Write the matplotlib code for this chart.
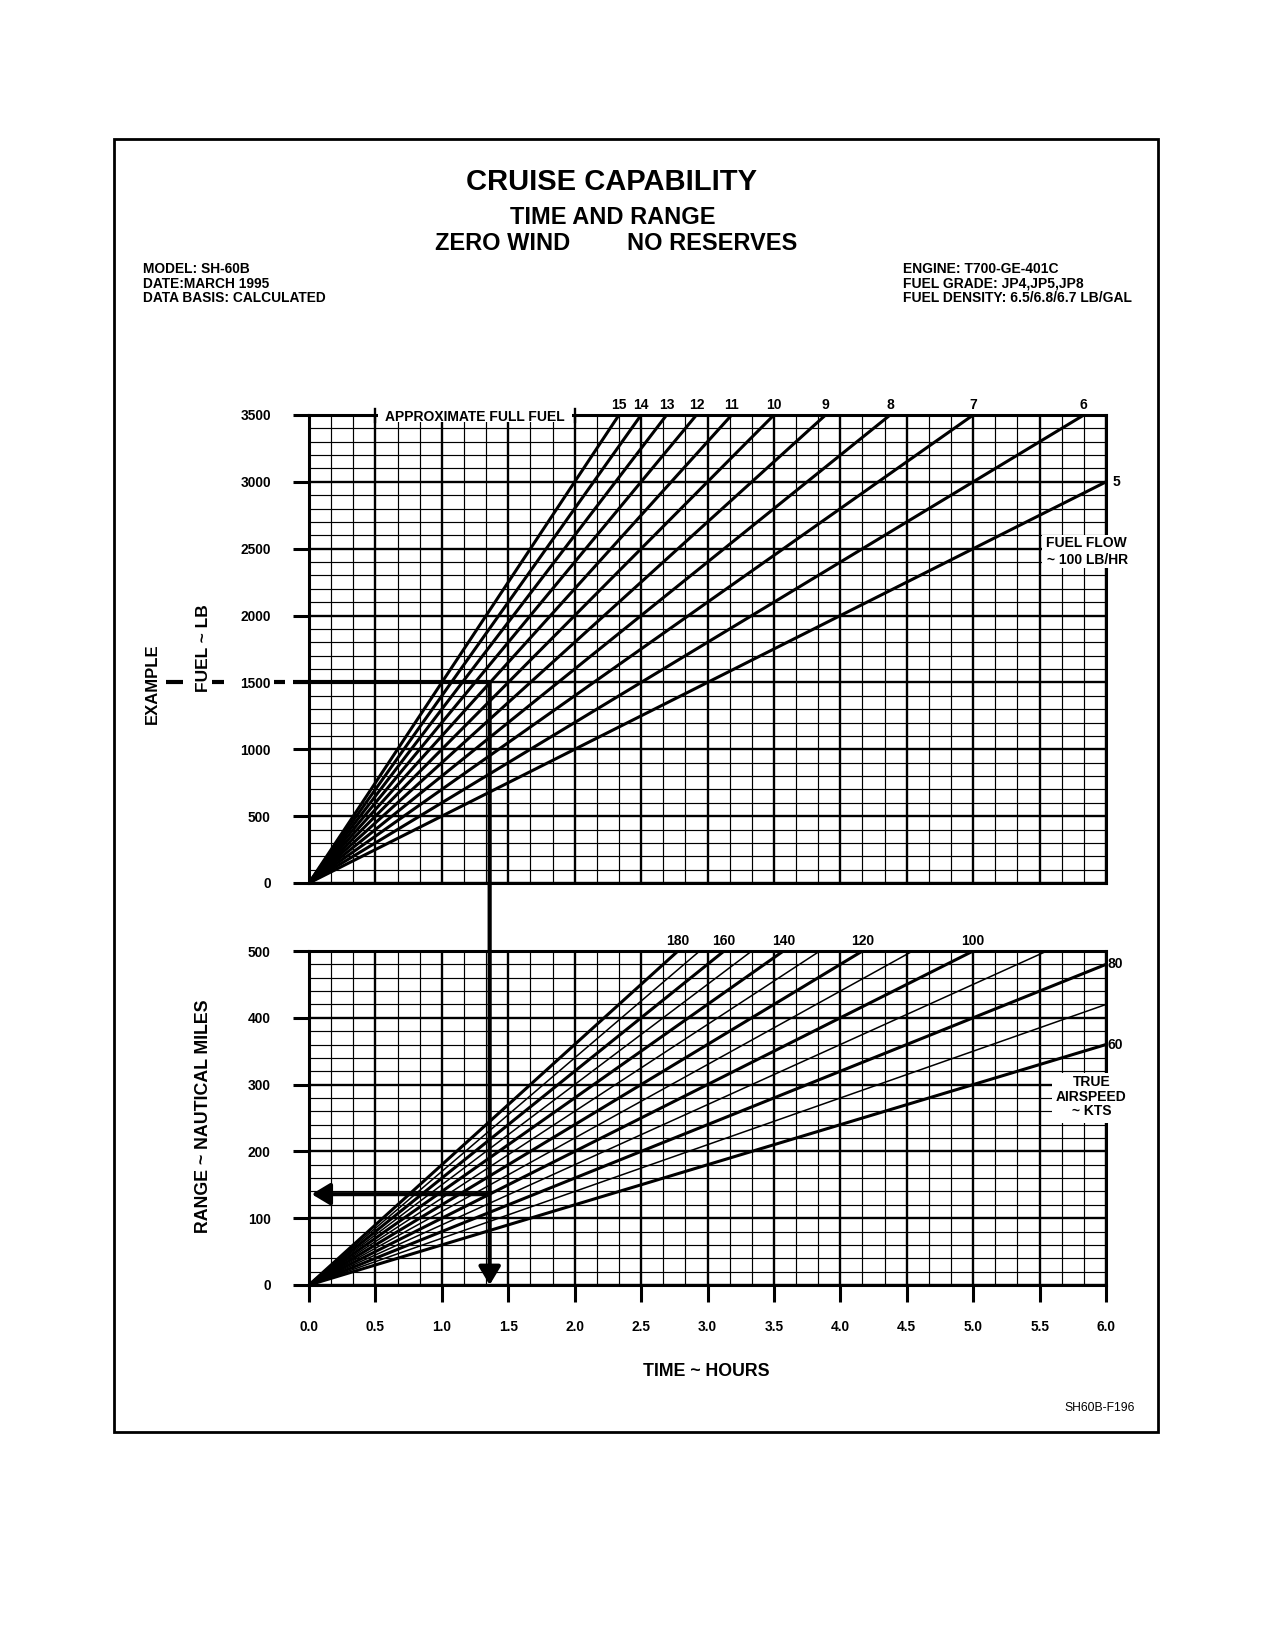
import numpy as np
import matplotlib.pyplot as plt
from matplotlib.patches import Rectangle, ConnectionPatch
from matplotlib.lines import Line2D

plt.rcParams['font.family'] = ['Liberation Sans', 'DejaVu Sans']
plt.rcParams['font.weight'] = 'bold'

# fuel flow lines, in 100 lb/hr
fuel_flows = [15, 14, 13, 12, 11, 10, 9, 8, 7, 6, 5]
# true airspeed lines, kts
airspeeds = [180, 170, 160, 150, 140, 130, 120, 110, 100, 90, 80, 70, 60]
labeled_speeds = [180, 160, 140, 120, 100, 80, 60]

time_ticks = [0.0, 0.5, 1.0, 1.5, 2.0, 2.5, 3.0, 3.5, 4.0, 4.5, 5.0, 5.5, 6.0]
fuel_ticks = [0, 500, 1000, 1500, 2000, 2500, 3000, 3500]
range_ticks = [0, 100, 200, 300, 400, 500]

full_fuel = 3500
max_range = 500
max_time = 6.0

# worked example
ex_fuel = 1500
ex_time = 1.36
ex_range = 136

W, H = 1275, 1650
fig = plt.figure(figsize=(W / 100, H / 100), dpi=100)


def fxy(px, py):
    return px / W, 1 - py / H


# page border
fig.add_artist(Rectangle(fxy(114, 1432), 1044 / W, 1293 / H, fill=False,
                         lw=2.0, ec='k', transform=fig.transFigure))

# titles / header
fig.text(*fxy(612, 182), 'CRUISE CAPABILITY', fontsize=21, ha='center', va='center')
fig.text(*fxy(613, 217), 'TIME AND RANGE', fontsize=17, ha='center', va='center')
fig.text(*fxy(435, 244), 'ZERO WIND', fontsize=17, ha='left', va='center')
fig.text(*fxy(797, 244), 'NO RESERVES', fontsize=17, ha='right', va='center')

left_hdr = ['MODEL: SH-60B', 'DATE:MARCH 1995', 'DATA BASIS: CALCULATED']
right_hdr = ['ENGINE: T700-GE-401C', 'FUEL GRADE: JP4,JP5,JP8',
             'FUEL DENSITY: 6.5/6.8/6.7 LB/GAL']
for i, (a, b) in enumerate(zip(left_hdr, right_hdr)):
    fig.text(*fxy(143, 269 + i * 14.5), a, fontsize=9.9, ha='left', va='center')
    fig.text(*fxy(903, 269 + i * 14.5), b, fontsize=10, ha='left', va='center')

ax1 = fig.add_axes([309 / W, 1 - 883 / H, 797 / W, 468 / H])
ax2 = fig.add_axes([309 / W, 1 - 1285 / H, 797 / W, 334 / H])

for ax, yt, ystep in [(ax1, fuel_ticks, 100), (ax2, range_ticks, 20)]:
    ax.set_xlim(0, max_time)
    ax.set_ylim(yt[0], yt[-1])
    ax.set_xticks(time_ticks)
    ax.set_xticks(np.arange(0, max_time + 1e-6, 1 / 6), minor=True)
    ax.set_yticks(yt)
    ax.set_yticks(np.arange(yt[0], yt[-1] + 1e-6, ystep), minor=True)
    ax.set_axisbelow(True)
    ax.grid(which='major', color='k', lw=1.7)
    ax.grid(which='minor', color='k', lw=0.85)
    ax.tick_params(axis='y', which='major', direction='out', length=11.5,
                   width=2.2, pad=16, labelsize=9.9)
    ax.tick_params(which='minor', length=0)
    for s in ax.spines.values():
        s.set_linewidth(2.2)

ax1.tick_params(axis='x', which='major', length=0, labelbottom=False)
ax2.tick_params(axis='x', which='major', direction='out', length=12,
                width=2.2, pad=13, labelsize=9.9)
ax2.set_xticklabels([f'{v:.1f}' for v in time_ticks])

# fuel flow lines
for f in fuel_flows:
    rate = f * 100
    tend = min(max_time, full_fuel / rate)
    ax1.plot([0, tend], [0, rate * tend], color='k', lw=2.2, solid_capstyle='butt', zorder=2)
    if rate * max_time > full_fuel:
        ax1.annotate(str(f), xy=(tend, full_fuel), xytext=(0, 7), textcoords='offset points',
                     ha='center', va='center', fontsize=10)
    else:
        ax1.annotate(str(f), xy=(max_time, rate * max_time), xytext=(5, 0),
                     textcoords='offset points', ha='left', va='center', fontsize=10)

# airspeed lines
for s in airspeeds:
    tend = min(max_time, max_range / s)
    thick = s in labeled_speeds
    ax2.plot([0, tend], [0, s * tend], color='k', lw=2.2 if thick else 1.1,
             solid_capstyle='butt', zorder=2)
    if not thick:
        continue
    if s * max_time > max_range:
        ax2.annotate(str(s), xy=(tend, max_range), xytext=(0, 7), textcoords='offset points',
                     ha='center', va='center', fontsize=10)
    else:
        ax2.annotate(str(s), xy=(max_time, s * max_time), xytext=(1, 0),
                     textcoords='offset points', ha='left', va='center', fontsize=10)

# approximate full fuel label on top edge
ax1.add_patch(Rectangle((0.52, 3448), 1.46, 110, fc='white', ec='none',
                        zorder=3, clip_on=False))
ax1.text(1.25, full_fuel - 12, 'APPROXIMATE FULL FUEL', fontsize=10, ha='center',
         va='center', zorder=4)
for tx in (0.5, 2.0):
    ax1.plot([tx, tx], [3450, 3545], color='k', lw=1.7, clip_on=False, zorder=4)

# fuel flow legend box
ax1.add_patch(Rectangle((5.52, 2355), 0.56, 250, fc='white', ec='none',
                        zorder=3, clip_on=False))
ax1.text(5.85, 2540, 'FUEL FLOW', fontsize=10, ha='center', va='center', zorder=4)
ax1.text(5.86, 2415, '~ 100 LB/HR', fontsize=10, ha='center', va='center', zorder=4)

# airspeed legend box
ax2.add_patch(Rectangle((5.59, 243), 0.5, 74, fc='white', ec='none',
                        zorder=3, clip_on=False))
ax2.text(5.89, 304, 'TRUE', fontsize=10, ha='center', va='center', zorder=4)
ax2.text(5.89, 282, 'AIRSPEED', fontsize=10, ha='center', va='center', zorder=4)
ax2.text(5.89, 260, '~ KTS', fontsize=10, ha='center', va='center', zorder=4)

# axis titles
fig.text(*fxy(204, 648), 'FUEL ~ LB', rotation=90, fontsize=12.5, ha='center', va='center')
fig.text(*fxy(152, 684), 'EXAMPLE', rotation=90, fontsize=12, ha='center', va='center')
fig.text(*fxy(204, 1116), 'RANGE ~ NAUTICAL MILES', rotation=90, fontsize=12.8,
         ha='center', va='center')
fig.text(*fxy(706, 1372), 'TIME ~ HOURS', fontsize=12.8, ha='center', va='center')
fig.text(*fxy(1100, 1408), 'SH60B-F196', fontsize=8.7, fontweight='normal',
         ha='center', va='center')

# example path: fuel -> time -> range
ex_y = ax1.transData.transform((0, ex_fuel))[1] / H
for x0, x1 in [(166, 183), (212, 224), (274, 285)]:
    fig.add_artist(Line2D([x0 / W, x1 / W], [ex_y, ex_y], color='k', lw=3,
                          solid_capstyle='butt'))
ax1.plot([-0.12, ex_time], [ex_fuel, ex_fuel], color='k', lw=3,
         solid_capstyle='butt', clip_on=False, zorder=4)
con = ConnectionPatch(xyA=(ex_time, ex_fuel), coordsA=ax1.transData,
                      xyB=(ex_time, 0), coordsB=ax2.transData,
                      arrowstyle='-|>,head_length=0.5,head_width=0.3',
                      mutation_scale=22, lw=3, color='k', shrinkA=0, shrinkB=0)
fig.add_artist(con)
ax2.annotate('', xy=(0.02, ex_range), xytext=(ex_time, ex_range),
             arrowprops=dict(arrowstyle='-|>,head_length=0.5,head_width=0.3',
                             mutation_scale=22, lw=3, color='k',
                             shrinkA=0, shrinkB=0), zorder=4)

fig.savefig('out.png', dpi=100, facecolor='white')
